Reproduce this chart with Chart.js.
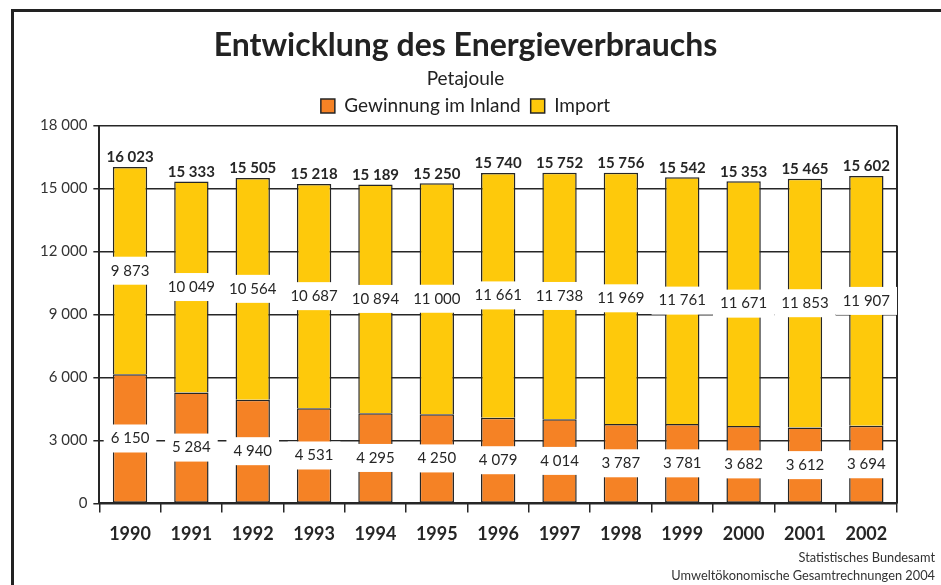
<!DOCTYPE html>
<html>
<head>
<meta charset="utf-8">
<script src="https://cdn.jsdelivr.net/npm/chart.js@4/dist/chart.umd.min.js"></script>
<style>
    body { margin: 0; background: #fff; }
    #wrap { position: relative; width: 941px; height: 585px; }
    #frame {
        position: absolute; left: 11px; top: 9px; right: -4px; bottom: -4px;
        border-top: 3px solid #222; border-left: 3px solid #222;
    }
    #footer {
        position: absolute; right: 6px; top: 548px; text-align: right;
        font: 12.8px Lato, sans-serif; color: #333; line-height: 18px;
    }
</style>
</head>
<body>
<div id="wrap">
    <div id="frame"></div>
    <canvas id="chart" width="941" height="585"></canvas>
    <div id="footer">Statistisches Bundesamt<br>Umweltökonomische Gesamtrechnungen 2004</div>
</div>
<script>
const years = ['1990', '1991', '1992', '1993', '1994', '1995', '1996',
    '1997', '1998', '1999', '2000', '2001', '2002'];
const inland = [6150, 5284, 4940, 4531, 4295, 4250, 4079, 4014, 3787, 3781, 3682, 3612, 3694];
const imports = [9873, 10049, 10564, 10687, 10894, 11000, 11661, 11738, 11969, 11761, 11671, 11853, 11907];
const totals = [16023, 15333, 15505, 15218, 15189, 15250, 15740, 15752, 15756, 15542, 15353, 15465, 15602];

const orange = '#f58225';
const yellow = '#fec90b';
const ink = '#262626';

function fmt(v) {
    return String(v).replace(/\B(?=(\d{3})+(?!\d))/g, ' ');
}

// white boxed labels inside segments, bold totals on top, right frame of plot
const labelPlugin = {
    id: 'labels',
    afterDatasetsDraw(chart) {
        const ctx = chart.ctx;
        const area = chart.chartArea;
        ctx.save();
        ctx.strokeStyle = ink;
        ctx.lineWidth = 2;
        ctx.beginPath();
        ctx.moveTo(area.right, area.top);
        ctx.lineTo(area.right, area.bottom);
        ctx.stroke();

        ctx.textAlign = 'center';
        ctx.textBaseline = 'middle';
        ctx.font = '15px Lato, sans-serif';
        chart.data.datasets.forEach((ds, di) => {
            chart.getDatasetMeta(di).data.forEach((bar, i) => {
                const y = (bar.y + bar.base) / 2;
                const text = fmt(ds.data[i]);
                const w = ctx.measureText(text).width + 14;
                ctx.fillStyle = '#fff';
                ctx.fillRect(bar.x - w / 2, y - 14, w, 28);
                ctx.fillStyle = ink;
                ctx.fillText(text, bar.x, y);
            });
        });

        ctx.font = 'bold 15px Lato, sans-serif';
        ctx.textBaseline = 'bottom';
        const top = chart.getDatasetMeta(1).data;
        top.forEach((bar, i) => {
            ctx.fillText(fmt(totals[i]), bar.x, bar.y - 2);
        });
        ctx.restore();
    }
};

new Chart(document.getElementById('chart'), {
    type: 'bar',
    data: {
        labels: years,
        datasets: [{
            label: 'Gewinnung im Inland',
            data: inland,
            backgroundColor: orange,
            borderColor: ink,
            borderWidth: 1.5,
            borderSkipped: false
        }, {
            label: 'Import',
            data: imports,
            backgroundColor: yellow,
            borderColor: ink,
            borderWidth: 1.5,
            borderSkipped: 'bottom'
        }]
    },
    options: {
        responsive: false,
        animation: false,
        layout: {
            padding: { left: 34, right: 44, bottom: 29, top: 0 }
        },
        datasets: {
            bar: { categoryPercentage: 1, barPercentage: 0.56 }
        },
        scales: {
            x: {
                stacked: true,
                grid: {
                    drawOnChartArea: false,
                    tickLength: 9,
                    color: ink,
                    lineWidth: 1.5
                },
                border: { color: ink, width: 2 },
                ticks: {
                    color: ink,
                    padding: 11,
                    font: { family: 'Lato', size: 18, weight: 'bold' }
                }
            },
            y: {
                stacked: true,
                min: 0,
                max: 18000,
                grid: {
                    color: ink,
                    lineWidth: 1.5,
                    tickLength: 6
                },
                border: { color: ink, width: 2 },
                ticks: {
                    stepSize: 3000,
                    color: '#333',
                    padding: 6,
                    font: { family: 'Lato', size: 15 },
                    callback: v => fmt(v)
                }
            }
        },
        plugins: {
            title: {
                display: true,
                text: 'Entwicklung des Energieverbrauchs',
                color: '#222',
                font: { family: 'Lato', size: 32, weight: 'bold' },
                padding: { top: 26, bottom: 2 }
            },
            subtitle: {
                display: true,
                text: 'Petajoule',
                color: '#222',
                font: { family: 'Lato', size: 19, lineHeight: 0.8 },
                padding: { top: 5, bottom: 0 }
            },
            legend: {
                labels: {
                    color: '#222',
                    font: { family: 'Lato', size: 19 },
                    boxWidth: 14,
                    boxHeight: 14,
                    padding: 10
                }
            },
            tooltip: { enabled: false }
        }
    },
    plugins: [labelPlugin]
});
</script>
</body>
</html>
